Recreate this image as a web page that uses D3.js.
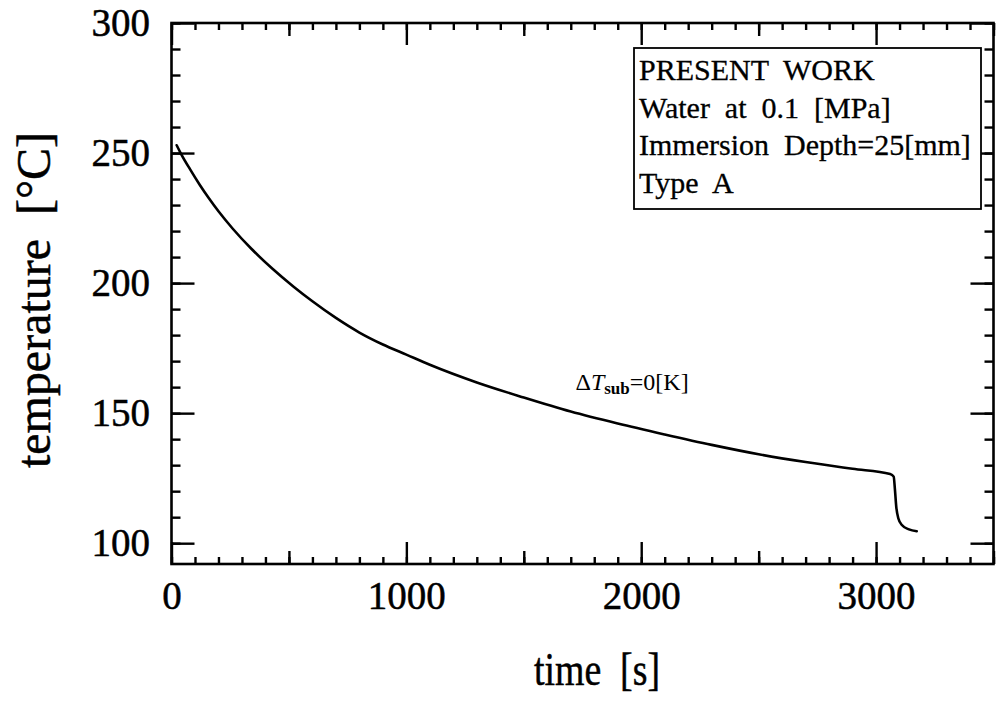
<!DOCTYPE html>
<html>
<head>
<meta charset="utf-8">
<script src="https://cdn.jsdelivr.net/npm/d3@7"></script>
<style>
  html, body { margin: 0; padding: 0; background: #fff; }
  svg text { font-family: "Liberation Serif", "Times New Roman", serif; fill: #000; white-space: pre; }
  svg text.heavy { stroke: #000; stroke-width: 0.5px; }
</style>
</head>
<body>
<svg id="chart" width="997" height="701"></svg>
<script>
// Cooling curve of the test piece (time in s, temperature in °C)
const timeS = [22, 40, 80, 120, 160, 200, 260, 340, 430, 520, 600, 700, 800, 900, 1000,
               1100, 1300, 1500, 1700, 1900, 2100, 2300, 2500, 2700, 2900, 3060, 3075,
               3080, 3086, 3095, 3110, 3140, 3173];
const tempC = [253, 249.8, 243.6, 237.8, 232.5, 227.6, 221, 213.2, 205.5, 198.6, 193, 186.6,
               181, 176.4, 172.5, 168.6, 161.8, 156, 150.6, 146, 141.8, 137.8, 134.2, 131.2,
               128.6, 126.6, 125.6, 121, 114, 109.5, 107, 105.3, 104.6];

const xMajorTicks = [0, 1000, 2000, 3000];
const yMajorTicks = [100, 150, 200, 250, 300];
const legendLines = ["PRESENT  WORK", "Water  at  0.1  [MPa]", "Immersion  Depth=25[mm]", "Type  A"];

const W = 997, H = 701;
const m = { left: 171.5, top: 23, right: 3.5, bottom: 137 };
const iw = W - m.left - m.right, ih = H - m.top - m.bottom;

const svg = d3.select("#chart");
const g = svg.append("g").attr("transform", `translate(${m.left},${m.top})`);

const x = d3.scaleLinear().domain([0, 3500]).range([0, iw]);
const y = d3.scaleLinear().domain([92, 300]).range([ih, 0]);

const xMinor = d3.range(0, 3501, 100);
const xMid = d3.range(500, 3501, 1000);
const yMinor = d3.range(100, 301, 10);

function styleAxis(sel) {
  sel.select(".domain").remove();
  sel.selectAll(".tick line").attr("stroke", "#000").attr("stroke-width", 2.4);
  sel.selectAll(".tick text").attr("font-size", 39).attr("font-family", "Liberation Serif")
    .attr("class", "heavy");
}

// inward ticks on all four sides
function tickSet(values, len, withLabels) {
  const fmt = withLabels ? d3.format("d") : () => "";
  g.append("g").attr("transform", `translate(0,${ih})`)
    .call(d3.axisBottom(x).tickValues(values).tickSizeInner(-len).tickSizeOuter(0).tickPadding(17).tickFormat(fmt))
    .call(styleAxis);
  g.append("g")
    .call(d3.axisTop(x).tickValues(values).tickSizeInner(-len).tickSizeOuter(0).tickFormat(() => ""))
    .call(styleAxis);
}
tickSet(xMinor, 7, false);
tickSet(xMid, 13, false);
tickSet(xMajorTicks, 22, true);

function yTickSet(values, len, withLabels) {
  const fmt = withLabels ? d3.format("d") : () => "";
  g.append("g")
    .call(d3.axisLeft(y).tickValues(values).tickSizeInner(-len).tickSizeOuter(0).tickPadding(21.5).tickFormat(fmt))
    .call(styleAxis);
  g.append("g").attr("transform", `translate(${iw},0)`)
    .call(d3.axisRight(y).tickValues(values).tickSizeInner(-len).tickSizeOuter(0).tickFormat(() => ""))
    .call(styleAxis);
}
yTickSet(yMinor, 9, false);
yTickSet(yMajorTicks, 23, true);

// frame
g.append("rect").attr("width", iw).attr("height", ih)
  .attr("fill", "none").attr("stroke", "#000").attr("stroke-width", 2.6);

// curve
const pts = timeS.map((t, i) => [t, tempC[i]]);
g.append("path").datum(pts)
  .attr("fill", "none").attr("stroke", "#000").attr("stroke-width", 2.6)
  .attr("stroke-linejoin", "round").attr("stroke-linecap", "round")
  .attr("d", d3.line().x(d => x(d[0])).y(d => y(d[1])).curve(d3.curveMonotoneX));

// curve label
const lab = g.append("text").attr("x", x(1720)).attr("y", y(158.8)).attr("font-size", 24);
lab.append("tspan").text("Δ");
lab.append("tspan").attr("font-style", "italic").text("T");
lab.append("tspan").attr("font-size", 17).attr("font-weight", "bold").attr("dy", 4).text("sub");
lab.append("tspan").attr("dy", -4).text("=0[K]");

// legend box
const lg = svg.append("g").attr("transform", "translate(634,48)");
lg.append("rect").attr("width", 347).attr("height", 161)
  .attr("fill", "#fff").attr("stroke", "#000").attr("stroke-width", 1.8);
lg.selectAll("text.leg").data(legendLines).join("text")
  .attr("class", "leg")
  .attr("x", 5).attr("y", (d, i) => 32 + i * 37.5)
  .attr("font-size", 30)
  .style("stroke", "#000").style("stroke-width", "0.3px")
  .text(d => d);

// axis titles
svg.append("text").attr("class", "heavy").attr("x", 597).attr("y", 685).attr("text-anchor", "middle")
  .attr("font-size", 46).attr("textLength", 126).attr("lengthAdjust", "spacingAndGlyphs")
  .text("time  [s]");
svg.append("text").attr("class", "heavy").attr("transform", "translate(50,300) rotate(-90)").attr("text-anchor", "middle")
  .attr("font-size", 48).attr("textLength", 336).attr("lengthAdjust", "spacingAndGlyphs")
  .text("temperature  [°C]");
</script>
</body>
</html>
